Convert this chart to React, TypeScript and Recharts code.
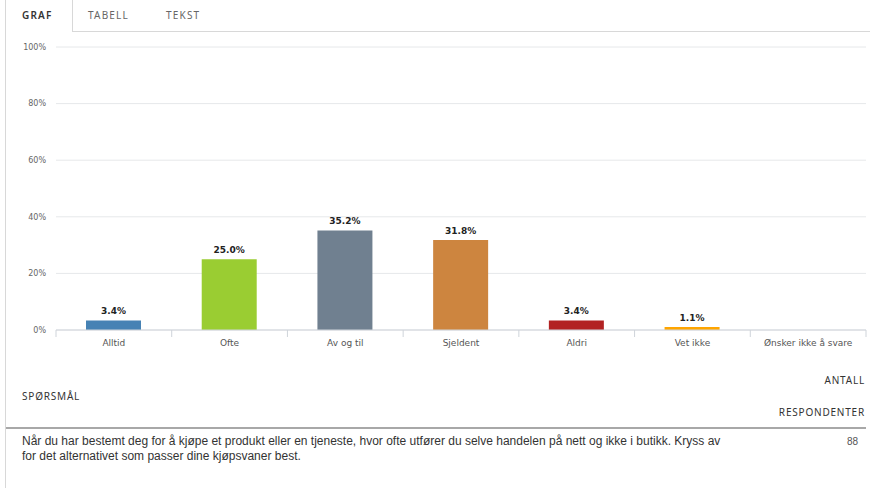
import { BarChart, Bar, XAxis, YAxis, CartesianGrid, LabelList, Cell } from "recharts";

const categories = ["Alltid", "Ofte", "Av og til", "Sjeldent", "Aldri", "Vet ikke", "Ønsker ikke å svare"];
const percents = [3.4, 25.0, 35.2, 31.8, 3.4, 1.1, 0];
const barColors = ["#4682b4", "#9acd32", "#708090", "#cd853f", "#b22222", "#ffa500", "#888888"];
const yTicks = [0, 20, 40, 60, 80, 100];
const tabs = ["GRAF", "TABELL", "TEKST"];
const question =
  "Når du har bestemt deg for å kjøpe et produkt eller en tjeneste, hvor ofte utfører du selve handelen på nett og ikke i butikk. Kryss av";
const questionCont = "for det alternativet som passer dine kjøpsvaner best.";
const respondents = 88;

const data = categories.map((name, i) => ({ name, value: percents[i] }));

const headFont = "'Noto Sans', 'Open Sans', sans-serif";
const bodyFont = "'DejaVu Sans', Verdana, sans-serif";

const XTick = (props: any) => {
  const { x, y, payload, index } = props;
  const off = payload.offset || 0;
  const last = index === categories.length - 1;
  return (
    <g>
      <line x1={x - off} y1={y - 8} x2={x - off} y2={y - 1} stroke="#cfd4da" />
      {last && <line x1={x + off} y1={y - 8} x2={x + off} y2={y - 1} stroke="#cfd4da" />}
      <text x={x} y={y + 8} textAnchor="middle" fill="#555" fontSize={9} fontFamily={bodyFont}>
        {payload.value}
      </text>
    </g>
  );
};

export default function App() {
  return (
    <div
      style={{
        position: "absolute",
        left: 0,
        top: 0,
        width: 870,
        height: 488,
        background: "#fff",
        overflow: "hidden",
        fontFamily: bodyFont,
      }}
    >
      {/* left frame line */}
      <div style={{ position: "absolute", left: 5, top: 0, width: 1, height: 488, background: "#d8d8d8" }} />
      {/* active tab box */}
      <div style={{ position: "absolute", left: 72, top: 0, width: 1, height: 32, background: "#d8d8d8" }} />
      <div style={{ position: "absolute", left: 72, top: 31, width: 798, height: 1, background: "#d8d8d8" }} />
      {tabs.map((t, i) => (
        <div
          key={t}
          style={{
            position: "absolute",
            left: [22, 88, 166][i],
            top: 8,
            fontFamily: headFont,
            fontSize: 10,
            letterSpacing: 1.2,
            fontWeight: i === 0 ? 600 : 400,
            color: i === 0 ? "#333" : "#666",
          }}
        >
          {t}
        </div>
      ))}

      <div style={{ position: "absolute", left: 0, top: 0 }}>
        <BarChart width={870} height={362} data={data} margin={{ top: 47, right: 4, left: 0, bottom: 0 }}>
          <CartesianGrid vertical={false} stroke="#e6e8ea" />
          <XAxis
            dataKey="name"
            axisLine={{ stroke: "#cfd4da" }}
            tickLine={false}
            tick={<XTick />}
            interval={0}
            height={32}
          />
          <YAxis
            domain={[0, 100]}
            ticks={yTicks}
            tickFormatter={(v) => `${v}%`}
            axisLine={false}
            tickLine={false}
            tickMargin={4}
            width={56}
            tick={{ fill: "#666", fontSize: 8, fontFamily: bodyFont }}
          />
          <Bar dataKey="value" barSize={55} isAnimationActive={false}>
            {data.map((d, i) => (
              <Cell key={d.name} fill={barColors[i]} />
            ))}
            <LabelList
              dataKey="value"
              position="top"
              offset={6}
              formatter={(v: any) => (v > 0 ? `${Number(v).toFixed(1)}%` : "")}
              style={{ fill: "#222", fontSize: 9, fontWeight: 700, fontFamily: bodyFont }}
            />
          </Bar>
        </BarChart>
      </div>

      <div style={{ position: "absolute", right: 5, top: 373, fontFamily: headFont, fontSize: 10, letterSpacing: 0.8, color: "#333" }}>
        ANTALL
      </div>
      <div style={{ position: "absolute", left: 22, top: 389, fontFamily: headFont, fontSize: 10, letterSpacing: 0.8, color: "#333" }}>
        SPØRSMÅL
      </div>
      <div style={{ position: "absolute", right: 5, top: 405, fontFamily: headFont, fontSize: 10, letterSpacing: 0.8, color: "#333" }}>
        RESPONDENTER
      </div>
      <div style={{ position: "absolute", left: 6, top: 427, width: 860, height: 2, background: "#a8a8a8" }} />
      <div
        style={{
          position: "absolute",
          left: 22,
          top: 434,
          fontFamily: "'Liberation Sans', Arial, sans-serif",
          fontSize: 12,
          lineHeight: "15px",
          color: "#333",
          whiteSpace: "nowrap",
        }}
      >
        {question}
        <br />
        {questionCont}
      </div>
      <div
        style={{
          position: "absolute",
          right: 12,
          top: 434,
          fontFamily: "'Liberation Sans', Arial, sans-serif",
          fontSize: 10,
          lineHeight: "15px",
          color: "#555",
        }}
      >
        {respondents}
      </div>
    </div>
  );
}
